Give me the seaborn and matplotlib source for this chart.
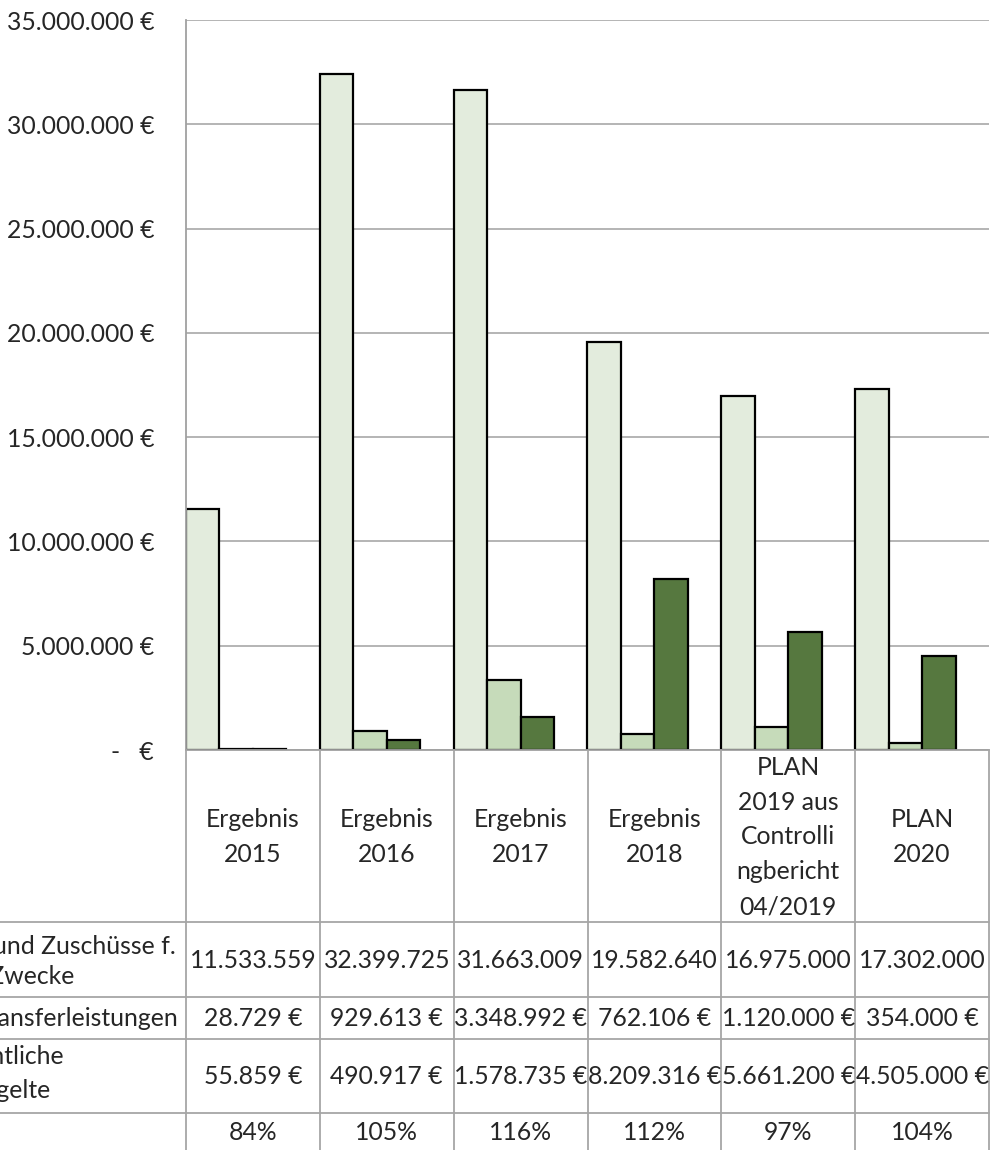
import pandas as pd
import numpy as np
import matplotlib
matplotlib.use("Agg")
import matplotlib.pyplot as plt
import seaborn as sns

kategorien = ["Ergebnis\n2015", "Ergebnis\n2016", "Ergebnis\n2017", "Ergebnis\n2018",
              "PLAN\n2019 aus\nControlli\nngbericht\n04/2019", "PLAN\n2020"]
zuschuesse = [11533559, 32399725, 31663009, 19582640, 16975000, 17302000]
transfer = [28729, 929613, 3348992, 762106, 1120000, 354000]
entgelte = [55859, 490917, 1578735, 8209316, 5661200, 4505000]
quote = [0.84, 1.05, 1.16, 1.12, 0.97, 1.04]

reihen = ["Zuweisungen und Zuschüsse f. laufende Zwecke", "Transferleistungen",
          "Öffentliche Leistungsentgelte", "Deckungsgrad"]
farben = ["#E2EFDA", "#C5E0B4", "#548235", "#FFFFFF"]

df = pd.DataFrame({
    "Kategorie": kategorien * 4,
    "Reihe": [r for r in reihen for _ in kategorien],
    "Wert": zuschuesse + transfer + entgelte + quote,
})

sns.set_style("white")
plt.rcParams["font.family"] = ["Lato", "DejaVu Sans"]
fs = 17.8

W, H = 990, 1150
fig = plt.figure(figsize=(W / 100, H / 100), dpi=100)

# Diagramm
x0, x1, ytop, ybot = 186, 989, 20, 750
ax = fig.add_axes([x0 / W, (H - ybot) / H, (x1 - x0) / W, (ybot - ytop) / H])
sns.barplot(data=df, x="Kategorie", y="Wert", hue="Reihe", hue_order=reihen,
            palette=farben, width=1.0, edgecolor="black", linewidth=1.6,
            legend=False, ax=ax)
# Deckungsgrad ist nur in der Tabelle sichtbar
for p in ax.containers[3]:
    p.set_linewidth(0)
    p.set_facecolor("none")

ax.set_xlim(-0.5, 5.5)
ax.set_ylim(0, 35e6)
ax.set_yticks(np.arange(0, 35e6 + 1, 5e6))
ax.yaxis.set_major_formatter(plt.FuncFormatter(
    lambda v, pos: "-   €" if v == 0 else f"{int(v):,}".replace(",", ".") + " €"))
ax.tick_params(axis="y", length=0, pad=23, labelsize=fs)
ax.set_xticks([])
ax.set_xlabel("")
ax.set_ylabel("")
ax.grid(axis="y", color="#A0A0A0", linewidth=1.1)
ax.set_axisbelow(True)
for s in ["top", "right"]:
    ax.spines[s].set_visible(False)
for s in ["left", "bottom"]:
    ax.spines[s].set_color("#A0A0A0")
    ax.spines[s].set_linewidth(1.3)

# Datentabelle
tax = fig.add_axes([0, 0, 1, (H - ybot) / H])
tax.set_xlim(0, W)
tax.set_ylim(H, ybot)
tax.axis("off")
lc = "#A6A6A6"
colw = (x1 - x0) / 6
grenzen = [x0 + colw * k for k in range(7)]
for gx in grenzen:
    tax.plot([gx, gx], [ybot, H], color=lc, lw=1.3, clip_on=False)
for hy in [922, 997, 1039, 1113]:
    tax.plot([0, x1], [hy, hy], color=lc, lw=1.3)

def de(v):
    return f"{int(round(v)):,}".replace(",", ".")

zeilen = [
    (960, [de(v) for v in zuschuesse]),
    (1018, [de(v) + " €" for v in transfer]),
    (1076, [de(v) + " €" for v in entgelte]),
    (1133, [f"{round(v * 100)}%" for v in quote]),
]
for i, kat in enumerate(kategorien):
    cx = x0 + colw * (i + 0.5)
    tax.text(cx, 837, kat, ha="center", va="center", fontsize=fs, linespacing=1.62)
    for yy, werte in zeilen:
        tax.text(cx, yy, werte[i], ha="center", va="center", fontsize=fs)

# Zeilenbeschriftungen (links abgeschnitten wie im Original)
for txt, xe, yy in [("Zuweisungen und Zuschüsse f.", 176, 946),
                    ("laufende Zwecke", 74, 976),
                    ("Transferleistungen", 178, 1018),
                    ("Öffentliche", 64, 1057),
                    ("Leistungsentgelte", 51, 1091)]:
    t = tax.text(xe, yy, txt, ha="right", va="center", fontsize=fs)
    t.set_clip_on(True)

fig.savefig("out.png", dpi=100, facecolor="white")
